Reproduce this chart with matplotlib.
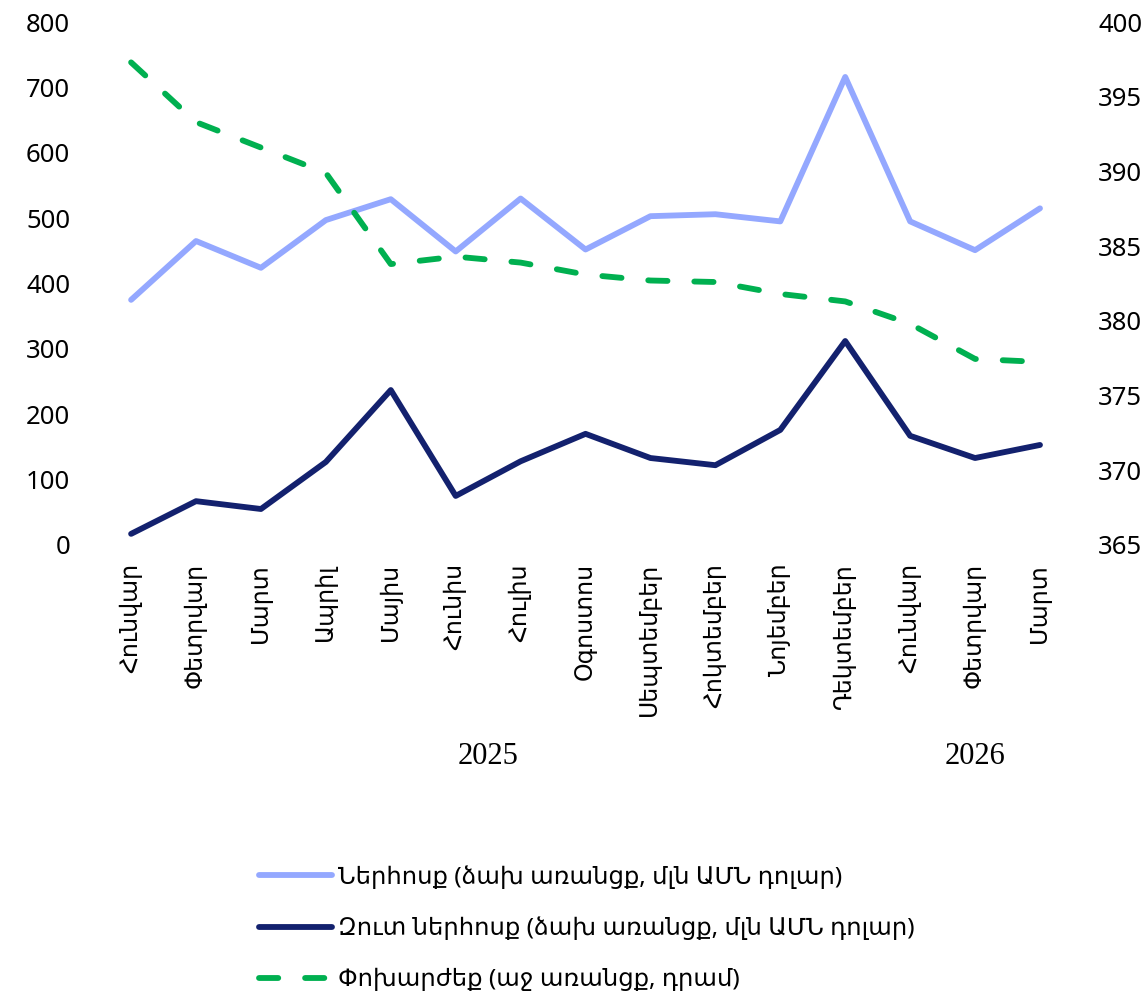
import matplotlib
matplotlib.use("Agg")
import matplotlib.pyplot as plt
import numpy as np

plt.rcParams['font.family'] = ['Noto Sans', 'DejaVu Sans']

months = ["Հունվար", "Փետրվար", "Մարտ", "Ապրիլ", "Մայիս", "Հունիս", "Հուլիս",
          "Օգոստոս", "Սեպտեմբեր", "Հոկտեմբեր", "Նոյեմբեր", "Դեկտեմբեր",
          "Հունվար", "Փետրվար", "Մարտ"]
years = ["2025", "2026"]
year_centers = [5.5, 13.0]

inflow = [375, 465, 424, 497, 529, 449, 530, 452, 503, 506, 495, 716, 495, 451, 515]
net_inflow = [17, 67, 55, 127, 237, 75, 128, 170, 133, 122, 176, 312, 167, 133, 153]
exch_rate = [397.3, 393.3, 391.6, 389.9, 383.8, 384.3, 383.9, 383.1, 382.7, 382.6,
             381.8, 381.3, 379.8, 377.45, 377.25]

labels = ["Ներհոսք (ձախ առանցք, մլն ԱՄՆ դոլար)",
          "Զուտ ներհոսք (ձախ առանցք, մլն ԱՄՆ դոլար)",
          "Փոխարժեք (աջ առանցք, դրամ)"]

c_light = "#94A8FF"
c_dark = "#13216E"
c_green = "#00B050"
fs_tick = 18.5
fs_month = 17
fs_leg = 17.5
lw = 4.2

fig = plt.figure(figsize=(11.47, 9.93), dpi=100)
ax = fig.add_axes([0.086, 0.4512, 0.849, 0.5266])
ax2 = ax.twinx()

x = np.arange(len(months))
l1, = ax.plot(x, inflow, color=c_light, lw=lw, solid_capstyle='round', solid_joinstyle='round')
l2, = ax.plot(x, net_inflow, color=c_dark, lw=lw, solid_capstyle='round', solid_joinstyle='round')
l3, = ax2.plot(x, exch_rate, color=c_green, lw=lw, dashes=(3.3, 4.6),
               dash_capstyle='round', dash_joinstyle='round')

ax.set_xlim(-0.5, len(months) - 0.5)
ax.set_ylim(0, 800)
ax.set_yticks(np.arange(0, 801, 100))
ax2.set_ylim(365, 400)
ax2.set_yticks(np.arange(365, 401, 5))

ax.set_xticks(x)
ax.set_xticklabels(months, rotation=90, va='top', ha='center', fontsize=fs_month)

for a in (ax, ax2):
    for s in a.spines.values():
        s.set_visible(False)
    a.tick_params(length=0)
ax.tick_params(axis='y', pad=20.5, labelsize=fs_tick)
ax2.tick_params(axis='y', pad=18.4, labelsize=fs_tick)
ax.tick_params(axis='x', pad=13)

for yr, xc in zip(years, year_centers):
    ax.text(xc, -0.405, yr, transform=ax.get_xaxis_transform(), ha='center', va='center',
            fontsize=22, family=['Liberation Serif', 'DejaVu Serif'])

fig.legend([l1, l2, l3], labels, loc='upper left', bbox_to_anchor=(259 / 1147, 1 - 866 / 993),
           frameon=False, fontsize=fs_leg, handlelength=3.0, handletextpad=0.26,
           labelspacing=1.12, borderpad=0, borderaxespad=0)

fig.savefig("out.png", dpi=100)
